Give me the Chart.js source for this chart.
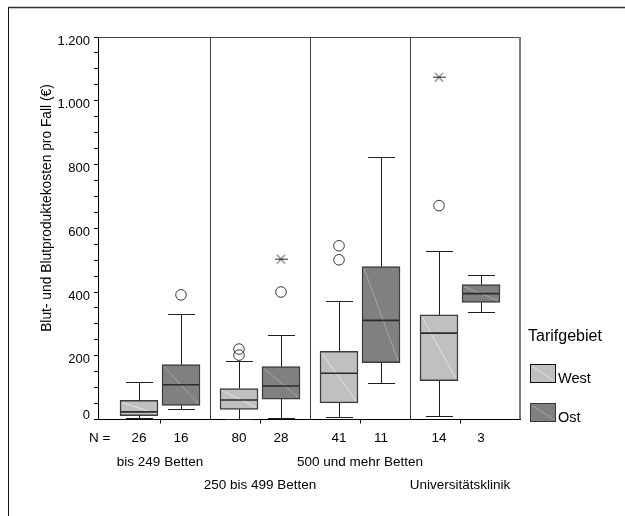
<!DOCTYPE html>
<html>
<head>
<meta charset="utf-8">
<script src="https://cdn.jsdelivr.net/npm/chart.js@4/dist/chart.umd.min.js"></script>
<style>
  html, body { margin: 0; padding: 0; background: #fff; }
  #wrap { width: 625px; height: 516px; position: relative; }
</style>
</head>
<body>
<div id="wrap"><canvas id="c" width="625" height="516"></canvas></div>
<script>
// Hospital size groups and case counts per tariff region
const groups = ['bis 249 Betten', '250 bis 499 Betten', '500 und mehr Betten', 'Universitätsklinik'];
const nWest = [26, 80, 41, 14];
const nOst = [16, 28, 11, 3];

// Five-number summaries (€ per case)
const westMin    = [3, 0, 4, 8];
const westQ1     = [12, 32, 52, 122];
const westMedian = [24, 61, 145, 271];
const westQ3     = [60, 97, 214, 328];
const westMax    = [117, 185, 371, 528];

const ostMin    = [29, 3, 112, 335];
const ostQ1     = [44, 64, 178, 367];
const ostMedian = [109, 105, 311, 395];
const ostQ3     = [172, 166, 480, 423];
const ostMax    = [330, 265, 824, 452];

// Outliers (circles) and extreme values (asterisks) per group
const westOutliers = [[], [221, 202], [545, 501], [671]];
const westExtremes = [[], [], [], [1074]];
const ostOutliers  = [[391], [400], [], []];
const ostExtremes  = [[], [503], [], []];

// Y axis labels
const yTickValues = [0, 200, 400, 600, 800, 1000, 1200];
const yTickLabels = ['0', '200', '400', '600', '800', '1.000', '1.200'];

const seriesNames = ['West', 'Ost'];
const OFFSET = 0.21;           // horizontal shift of each series from the group centre
const FONT = "'Liberation Sans', Arial, Helvetica, sans-serif";
const WEST_FILL = '#c0c0c0', OST_FILL = '#808080';
const WEST_DIAG = '#e2e2e2', OST_DIAG = '#a6a6a6';
const EDGE = '#3c3c3c';

Chart.defaults.font.family = FONT;
Chart.defaults.color = '#000';

// asterisk marker for extreme values
function makeAsterisk() {
  const c = document.createElement('canvas');
  c.width = 13; c.height = 11;
  const g = c.getContext('2d');
  g.strokeStyle = '#2a2a2a';
  g.lineWidth = 1;
  g.beginPath();
  g.moveTo(0, 5.5); g.lineTo(13, 5.5);
  g.moveTo(2.5, 1); g.lineTo(10.5, 10);
  g.moveTo(2.5, 10); g.lineTo(10.5, 1);
  g.stroke();
  return c;
}
const asterisk = makeAsterisk();

function boxData(q1, q3, dx) {
  return groups.map((_, i) => ({ x: i + dx, y: [q1[i], q3[i]] }));
}
function pointData(lists, dx) {
  const out = [];
  lists.forEach((vals, i) => vals.forEach(v => out.push({ x: i + dx, y: v })));
  return out;
}

const summaries = [
  { min: westMin, med: westMedian, max: westMax, diag: WEST_DIAG },
  { min: ostMin,  med: ostMedian,  max: ostMax,  diag: OST_DIAG }
];

const boxDetails = {
  id: 'boxDetails',
  beforeDraw(chart) {
    const ctx = chart.ctx, a = chart.chartArea, xs = chart.scales.x;
    ctx.save();
    ctx.fillStyle = '#fff';
    ctx.fillRect(0, 0, chart.width, chart.height);
    // outer frame
    ctx.strokeStyle = '#333';
    ctx.lineWidth = 1.5;
    ctx.beginPath();
    ctx.moveTo(8, 7.5); ctx.lineTo(chart.width, 7.5);
    ctx.stroke();
    ctx.lineWidth = 1;
    ctx.strokeStyle = '#111';
    ctx.beginPath();
    ctx.moveTo(8.5, 7.5); ctx.lineTo(8.5, chart.height);
    ctx.stroke();
    // plot frame: top and right
    ctx.strokeStyle = '#444';
    ctx.beginPath();
    ctx.moveTo(a.left, Math.round(a.top) + 0.5); ctx.lineTo(a.right, Math.round(a.top) + 0.5);
    ctx.stroke();
    ctx.strokeStyle = '#7a7a7a';
    ctx.lineWidth = 2;
    ctx.beginPath();
    ctx.moveTo(a.right, a.top); ctx.lineTo(a.right, a.bottom);
    ctx.stroke();
    // group separators
    ctx.strokeStyle = '#404040';
    ctx.lineWidth = 1;
    for (let i = 0; i < groups.length - 1; i++) {
      const px = Math.round(xs.getPixelForValue(i + 0.5)) + 0.5;
      ctx.beginPath();
      ctx.moveTo(px, a.top); ctx.lineTo(px, a.bottom);
      ctx.stroke();
    }
    ctx.restore();
  },
  afterDatasetsDraw(chart) {
    const ctx = chart.ctx, ys = chart.scales.y;
    ctx.save();
    [0, 1].forEach(d => {
      const meta = chart.getDatasetMeta(d);
      const s = summaries[d];
      meta.data.forEach((bar, i) => {
        const p = bar.getProps(['x', 'y', 'base', 'width'], true);
        const left = p.x - p.width / 2, right = p.x + p.width / 2;
        const top = Math.min(p.y, p.base), bottom = Math.max(p.y, p.base);
        const cx = Math.round(p.x) + 0.5;
        // diagonal sheen
        ctx.strokeStyle = s.diag;
        ctx.lineWidth = 1;
        ctx.beginPath();
        ctx.moveTo(left + 2, top + 2); ctx.lineTo(right - 2, bottom - 2);
        ctx.stroke();
        // whiskers
        const yMax = Math.round(ys.getPixelForValue(s.max[i])) + 0.5;
        const yMin = Math.round(ys.getPixelForValue(s.min[i])) - 0.5;
        ctx.strokeStyle = '#1e1e1e';
        ctx.lineWidth = 1;
        ctx.beginPath();
        ctx.moveTo(cx, top); ctx.lineTo(cx, yMax);
        ctx.moveTo(cx, bottom); ctx.lineTo(cx, yMin);
        ctx.moveTo(cx - 13.5, yMax); ctx.lineTo(cx + 13.5, yMax);
        ctx.moveTo(cx - 13.5, yMin); ctx.lineTo(cx + 13.5, yMin);
        ctx.stroke();
        // median
        const yMed = ys.getPixelForValue(s.med[i]);
        ctx.strokeStyle = '#2a2a2a';
        ctx.lineWidth = 1.6;
        ctx.beginPath();
        ctx.moveTo(left + 1, yMed); ctx.lineTo(right - 1, yMed);
        ctx.stroke();
      });
    });
    ctx.restore();
  },
  afterDraw(chart) {
    const ctx = chart.ctx, xs = chart.scales.x;
    ctx.save();
    ctx.fillStyle = '#000';
    // y axis title
    ctx.save();
    ctx.translate(47, 208);
    ctx.rotate(-Math.PI / 2);
    ctx.font = '13.8px ' + FONT;
    ctx.textAlign = 'center';
    ctx.textBaseline = 'middle';
    ctx.fillText('Blut- und Blutproduktekosten pro Fall (€)', 0, 0);
    ctx.restore();
    // case counts
    ctx.font = '13.5px ' + FONT;
    ctx.textBaseline = 'middle';
    ctx.textAlign = 'left';
    ctx.fillText('N =', 89, 438);
    ctx.textAlign = 'center';
    groups.forEach((g, i) => {
      ctx.fillText(String(nWest[i]), xs.getPixelForValue(i - OFFSET), 438);
      ctx.fillText(String(nOst[i]), xs.getPixelForValue(i + OFFSET), 438);
      // staggered group names
      ctx.fillText(g, xs.getPixelForValue(i), i % 2 === 0 ? 462 : 485);
    });
    // legend
    ctx.textAlign = 'left';
    ctx.font = '16px ' + FONT;
    ctx.fillText('Tarifgebiet', 528, 337);
    const fills = [WEST_FILL, OST_FILL], diags = [WEST_DIAG, OST_DIAG], borders = ['#111', '#3a3a3a'];
    const tops = [364.5, 403.5];
    seriesNames.forEach((name, k) => {
      const x0 = 530.5, y0 = tops[k], w = 25, h = 18;
      ctx.fillStyle = fills[k];
      ctx.fillRect(x0, y0, w, h);
      ctx.strokeStyle = diags[k];
      ctx.lineWidth = 1;
      ctx.beginPath();
      ctx.moveTo(x0 + 2, y0 + 2); ctx.lineTo(x0 + w - 2, y0 + h - 2);
      ctx.stroke();
      ctx.strokeStyle = borders[k];
      ctx.lineWidth = 1;
      ctx.strokeRect(x0, y0, w, h);
      ctx.fillStyle = '#000';
      ctx.font = '14.5px ' + FONT;
      ctx.fillText(name, 558, y0 + 14.5);
    });
    ctx.restore();
  }
};

new Chart(document.getElementById('c'), {
  type: 'bar',
  data: {
    datasets: [
      { label: 'West', data: boxData(westQ1, westQ3, -OFFSET), backgroundColor: WEST_FILL,
        borderColor: EDGE, borderWidth: 1.5, borderSkipped: false, barThickness: 38, grouped: false, order: 2 },
      { label: 'Ost', data: boxData(ostQ1, ostQ3, OFFSET), backgroundColor: OST_FILL,
        borderColor: EDGE, borderWidth: 1.5, borderSkipped: false, barThickness: 38, grouped: false, order: 2 },
      { type: 'scatter', label: 'West Ausreißer', data: pointData(westOutliers, -OFFSET),
        pointStyle: 'circle', pointRadius: 5.3, borderColor: '#3a3a3a', backgroundColor: 'rgba(0,0,0,0)', borderWidth: 1, order: 1 },
      { type: 'scatter', label: 'Ost Ausreißer', data: pointData(ostOutliers, OFFSET),
        pointStyle: 'circle', pointRadius: 5.3, borderColor: '#3a3a3a', backgroundColor: 'rgba(0,0,0,0)', borderWidth: 1, order: 1 },
      { type: 'scatter', label: 'West Extremwerte', data: pointData(westExtremes, -OFFSET),
        pointStyle: asterisk, pointRadius: 6, order: 1 },
      { type: 'scatter', label: 'Ost Extremwerte', data: pointData(ostExtremes, OFFSET),
        pointStyle: asterisk, pointRadius: 6, order: 1 }
    ]
  },
  options: {
    responsive: false,
    devicePixelRatio: 1,
    animation: false,
    events: [],
    layout: { padding: { top: 37, left: 0, right: 105, bottom: 0 } },
    plugins: { legend: { display: false }, tooltip: { enabled: false } },
    scales: {
      x: {
        type: 'linear',
        min: -0.62,
        max: 3.6,
        offset: false,
        afterFit(scale) { scale.height = 96.5; },
        afterBuildTicks(scale) { scale.ticks = groups.map((_, i) => ({ value: i })); },
        ticks: { callback: () => '', autoSkip: false },
        grid: { drawOnChartArea: false, offset: false, tickLength: 4, color: '#000', tickColor: '#000' },
        border: { display: true, color: '#000', width: 1 }
      },
      y: {
        type: 'linear',
        min: 0,
        max: 1200,
        afterFit(scale) { scale.width = 98; },
        ticks: {
          stepSize: 50,
          autoSkip: false,
          padding: 4,
          labelOffset: 4,
          font: { size: 13, family: FONT },
          color: '#000',
          callback(value) {
            const k = yTickValues.indexOf(value);
            if (k < 0) return '';
            return value === 0 ? [yTickLabels[k], ''] : yTickLabels[k];
          }
        },
        grid: { drawOnChartArea: false, tickLength: 4, color: '#000', tickColor: '#000' },
        border: { display: true, color: '#000', width: 1 }
      }
    }
  },
  plugins: [boxDetails]
});
</script>
</body>
</html>
